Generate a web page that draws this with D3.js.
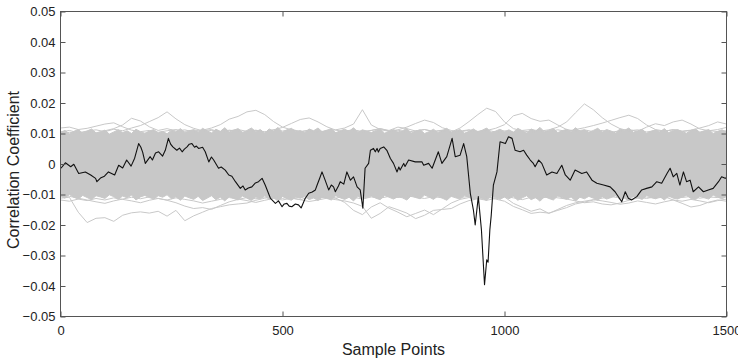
<!DOCTYPE html>
<html>
<head>
<meta charset="utf-8">
<script src="https://cdn.jsdelivr.net/npm/d3@7/dist/d3.min.js"></script>
<style>
  html, body { margin: 0; padding: 0; background: #fff; }
  svg { display: block; }
  text { font-family: "Liberation Sans", Arial, sans-serif; fill: #222; }
</style>
</head>
<body>
<svg id="chart" width="738" height="360"></svg>
<script>
// ---- axis definitions ----
const xTickValues = [0, 500, 1000, 1500];
const xTickLabels = ["0", "500", "1000", "1500"];
const yTickValues = [-0.05, -0.04, -0.03, -0.02, -0.01, 0, 0.01, 0.02, 0.03, 0.04, 0.05];
const yTickLabels = ["\u22120.05", "\u22120.04", "\u22120.03", "\u22120.02", "\u22120.01", "0",
                     "0.01", "0.02", "0.03", "0.04", "0.05"];
const xTitle = "Sample Points";
const yTitle = "Correlation Coefficient";

// ---- wrong-key correlation traces (grey) ----
// envelope of the dense bundle of wrong-key traces, one value every 10 samples
const coreStep = 10;
const coreUpper = [
  0.0104,0.0110,0.0099,0.0107,0.0113,0.0101,0.0108,0.0115,0.0102,0.0106,
  0.0111,0.0098,0.0105,0.0112,0.0103,0.0109,0.0100,0.0114,0.0106,0.0101,
  0.0108,0.0113,0.0102,0.0107,0.0099,0.0111,0.0105,0.0116,0.0103,0.0108,
  0.0112,0.0104,0.0117,0.0109,0.0102,0.0114,0.0107,0.0119,0.0105,0.0111,
  0.0116,0.0103,0.0110,0.0118,0.0106,0.0113,0.0101,0.0115,0.0108,0.0120,
  0.0104,0.0112,0.0117,0.0106,0.0110,0.0103,0.0115,0.0109,0.0118,0.0105,
  0.0111,0.0116,0.0102,0.0109,0.0114,0.0107,0.0119,0.0104,0.0112,0.0108,
  0.0103,0.0110,0.0115,0.0101,0.0107,0.0113,0.0105,0.0109,0.0116,0.0102,
  0.0108,0.0112,0.0100,0.0106,0.0114,0.0103,0.0110,0.0117,0.0104,0.0109,
  0.0113,0.0101,0.0107,0.0115,0.0105,0.0111,0.0118,0.0103,0.0108,0.0114,
  0.0106,0.0112,0.0104,0.0117,0.0109,0.0102,0.0115,0.0108,0.0120,0.0105,
  0.0111,0.0116,0.0103,0.0109,0.0114,0.0106,0.0119,0.0107,0.0112,0.0104,
  0.0110,0.0117,0.0105,0.0113,0.0108,0.0102,0.0115,0.0110,0.0118,0.0104,
  0.0109,0.0114,0.0101,0.0107,0.0112,0.0105,0.0116,0.0103,0.0110,0.0113,
  0.0106,0.0101,0.0111,0.0115,0.0104,0.0109,0.0113,0.0100,0.0107,0.0112,
  0.0105];
const coreLower = [
  -0.0106,-0.0112,-0.0100,-0.0109,-0.0115,-0.0103,-0.0110,-0.0117,-0.0104,-0.0108,
  -0.0113,-0.0101,-0.0107,-0.0116,-0.0105,-0.0111,-0.0102,-0.0118,-0.0108,-0.0103,
  -0.0110,-0.0115,-0.0104,-0.0109,-0.0101,-0.0114,-0.0107,-0.0119,-0.0105,-0.0111,
  -0.0116,-0.0106,-0.0120,-0.0112,-0.0104,-0.0117,-0.0109,-0.0121,-0.0107,-0.0113,
  -0.0118,-0.0105,-0.0112,-0.0120,-0.0108,-0.0115,-0.0103,-0.0117,-0.0110,-0.0122,
  -0.0106,-0.0114,-0.0119,-0.0108,-0.0112,-0.0105,-0.0117,-0.0111,-0.0120,-0.0107,
  -0.0113,-0.0118,-0.0104,-0.0111,-0.0116,-0.0109,-0.0121,-0.0106,-0.0114,-0.0110,
  -0.0105,-0.0112,-0.0117,-0.0103,-0.0109,-0.0115,-0.0107,-0.0111,-0.0118,-0.0104,
  -0.0110,-0.0114,-0.0102,-0.0108,-0.0116,-0.0105,-0.0112,-0.0119,-0.0106,-0.0111,
  -0.0115,-0.0103,-0.0109,-0.0117,-0.0107,-0.0113,-0.0120,-0.0105,-0.0110,-0.0116,
  -0.0108,-0.0114,-0.0106,-0.0119,-0.0111,-0.0104,-0.0117,-0.0110,-0.0122,-0.0107,
  -0.0113,-0.0118,-0.0105,-0.0111,-0.0116,-0.0108,-0.0121,-0.0109,-0.0114,-0.0106,
  -0.0112,-0.0119,-0.0107,-0.0115,-0.0110,-0.0104,-0.0117,-0.0112,-0.0120,-0.0106,
  -0.0111,-0.0116,-0.0103,-0.0109,-0.0114,-0.0107,-0.0118,-0.0105,-0.0112,-0.0115,
  -0.0108,-0.0103,-0.0113,-0.0117,-0.0106,-0.0111,-0.0115,-0.0102,-0.0109,-0.0114,
  -0.0107];

// outlying wrong-key traces, one value every 20 samples
const traceStep = 20;
const wrongKeyA = [0.0105,0.0110,0.0102,0.0108,0.0112,0.0106,0.0114,0.0109,0.0118,0.0126,
  0.0139,0.0152,0.0171,0.0148,0.0129,0.0117,0.0109,0.0113,0.0104,0.0111,
  0.0107,0.0102,0.0110,0.0105,0.0112,0.0108,0.0114,0.0106,0.0110,0.0103,
  0.0109,0.0112,0.0118,0.0131,0.0178,0.0128,0.0113,0.0107,0.0111,0.0104,
  0.0109,0.0113,0.0106,0.0110,0.0104,0.0108,0.0112,0.0107,0.0111,0.0105,
  0.0109,0.0104,0.0110,0.0113,0.0108,0.0112,0.0121,0.0138,0.0168,0.0197,
  0.0178,0.0152,0.0131,0.0116,0.0109,0.0112,0.0105,0.0110,0.0107,0.0113,
  0.0108,0.0111,0.0104,0.0110,0.0106,0.0109];
const wrongKeyB = [0.0097,0.0104,0.0100,0.0107,0.0101,0.0109,0.0116,0.0128,0.0150,0.0141,
  0.0122,0.0110,0.0116,0.0108,0.0112,0.0105,0.0111,0.0118,0.0129,0.0147,
  0.0156,0.0171,0.0176,0.0162,0.0139,0.0121,0.0112,0.0106,0.0111,0.0104,
  0.0110,0.0103,0.0108,0.0112,0.0106,0.0110,0.0116,0.0110,0.0121,0.0116,
  0.0108,0.0113,0.0107,0.0111,0.0105,0.0118,0.0139,0.0162,0.0183,0.0172,
  0.0138,0.0116,0.0109,0.0104,0.0110,0.0106,0.0112,0.0107,0.0113,0.0119,
  0.0126,0.0134,0.0143,0.0152,0.0160,0.0149,0.0128,0.0113,0.0108,0.0112,
  0.0106,0.0110,0.0118,0.0126,0.0138,0.0131];
const wrongKeyC = [0.0118,0.0121,0.0113,0.0117,0.0124,0.0131,0.0135,0.0122,0.0111,0.0106,
  0.0110,0.0104,0.0109,0.0113,0.0107,0.0112,0.0106,0.0110,0.0104,0.0109,
  0.0113,0.0107,0.0111,0.0105,0.0112,0.0120,0.0133,0.0146,0.0151,0.0138,
  0.0122,0.0111,0.0106,0.0111,0.0105,0.0110,0.0116,0.0108,0.0112,0.0121,
  0.0133,0.0144,0.0136,0.0119,0.0110,0.0105,0.0111,0.0106,0.0110,0.0117,
  0.0129,0.0158,0.0166,0.0149,0.0140,0.0144,0.0128,0.0113,0.0108,0.0112,
  0.0106,0.0110,0.0104,0.0109,0.0113,0.0107,0.0121,0.0132,0.0126,0.0138,
  0.0144,0.0131,0.0115,0.0109,0.0113,0.0120];
const wrongKeyD = [-0.0112,-0.0109,-0.0158,-0.0192,-0.0178,-0.0176,-0.0188,-0.0168,-0.0160,-0.0157,
  -0.0161,-0.0155,-0.0171,-0.0152,-0.0186,-0.0170,-0.0158,-0.0146,-0.0140,-0.0134,
  -0.0131,-0.0128,-0.0119,-0.0112,-0.0108,-0.0113,-0.0106,-0.0111,-0.0104,-0.0110,
  -0.0107,-0.0112,-0.0105,-0.0109,-0.0115,-0.0108,-0.0112,-0.0106,-0.0110,-0.0104,
  -0.0109,-0.0113,-0.0107,-0.0111,-0.0105,-0.0110,-0.0106,-0.0112,-0.0108,-0.0115,
  -0.0122,-0.0139,-0.0150,-0.0162,-0.0158,-0.0161,-0.0152,-0.0143,-0.0131,-0.0125,
  -0.0118,-0.0112,-0.0107,-0.0111,-0.0105,-0.0109,-0.0113,-0.0107,-0.0111,-0.0105,
  -0.0110,-0.0106,-0.0112,-0.0108,-0.0110,-0.0106];
const wrongKeyE = [-0.0100,-0.0106,-0.0112,-0.0118,-0.0124,-0.0129,-0.0121,-0.0115,-0.0109,-0.0114,
  -0.0108,-0.0113,-0.0119,-0.0127,-0.0138,-0.0146,-0.0143,-0.0149,-0.0136,-0.0124,
  -0.0116,-0.0110,-0.0114,-0.0108,-0.0112,-0.0106,-0.0111,-0.0117,-0.0109,-0.0113,
  -0.0107,-0.0112,-0.0126,-0.0152,-0.0166,-0.0141,-0.0127,-0.0145,-0.0158,-0.0173,
  -0.0162,-0.0151,-0.0166,-0.0147,-0.0128,-0.0116,-0.0110,-0.0114,-0.0108,-0.0112,
  -0.0106,-0.0111,-0.0117,-0.0109,-0.0113,-0.0107,-0.0111,-0.0115,-0.0121,-0.0127,
  -0.0124,-0.0131,-0.0134,-0.0128,-0.0119,-0.0112,-0.0108,-0.0113,-0.0107,-0.0118,
  -0.0129,-0.0141,-0.0136,-0.0125,-0.0118,-0.0122];
const wrongKeyF = [-0.0118,-0.0122,-0.0115,-0.0120,-0.0113,-0.0118,-0.0111,-0.0116,-0.0121,-0.0127,
  -0.0119,-0.0113,-0.0118,-0.0111,-0.0116,-0.0121,-0.0128,-0.0122,-0.0116,-0.0110,
  -0.0115,-0.0120,-0.0126,-0.0119,-0.0113,-0.0118,-0.0112,-0.0117,-0.0123,-0.0118,
  -0.0112,-0.0117,-0.0121,-0.0128,-0.0139,-0.0178,-0.0162,-0.0140,-0.0150,-0.0161,
  -0.0179,-0.0168,-0.0152,-0.0149,-0.0146,-0.0131,-0.0120,-0.0114,-0.0119,-0.0113,
  -0.0108,-0.0129,-0.0142,-0.0155,-0.0147,-0.0162,-0.0149,-0.0136,-0.0127,-0.0122,
  -0.0117,-0.0121,-0.0126,-0.0132,-0.0128,-0.0121,-0.0126,-0.0131,-0.0124,-0.0118,
  -0.0122,-0.0116,-0.0121,-0.0127,-0.0120,-0.0115];

// ---- correct-key correlation trace (black) ----
const keySamples = [1,11,23,30,41,56,68,79,82,90,99,108,122,131,140,149,159,167,176,181,
  185,191,202,207,214,221,230,236,243,248,253,262,268,274,279,285,290,296,302,306,
  311,320,326,334,340,345,356,362,371,379,386,394,405,411,416,423,431,439,446,454,
  461,473,484,491,499,504,510,515,521,529,536,542,551,559,567,574,578,584,589,596,
  604,610,615,619,626,630,638,645,653,660,668,675,681,686,694,698,705,709,713,716,
  720,728,735,743,750,758,762,765,773,776,784,799,814,818,829,837,851,859,870,882,
  889,900,908,915,923,930,934,941,948,955,960,963,967,970,975,983,990,1002,1009,1017,
  1024,1035,1043,1050,1058,1065,1069,1077,1084,1095,1107,1118,1129,1137,1148,1159,1174,1185,1197,1208,
  1223,1238,1249,1264,1272,1279,1286,1298,1309,1320,1332,1343,1354,1366,1373,1380,1388,1395,1403,1410,
  1418,1425,1437,1448,1459,1470,1482,1489,1497,1500];
const keyValues = [-0.0014,0.0004,-0.0009,-0.0001,-0.0031,-0.0026,-0.0036,-0.0047,-0.0058,-0.0046,
  -0.0040,-0.0026,-0.0036,-0.0004,-0.0013,0.0013,-0.0007,0.0019,0.0067,0.0055,
  0.0039,0.0002,0.0024,0.0013,0.0036,0.0040,0.0026,0.0045,0.0084,0.0065,
  0.0056,0.0045,0.0052,0.0040,0.0049,0.0056,0.0065,0.0067,0.0055,0.0059,
  0.0051,0.0055,0.0040,0.0007,0.0023,0.0013,-0.0014,-0.0010,-0.0020,-0.0036,
  -0.0040,-0.0058,-0.0080,-0.0072,-0.0085,-0.0079,-0.0075,-0.0062,-0.0058,-0.0047,
  -0.0069,-0.0113,-0.0129,-0.0121,-0.0140,-0.0131,-0.0129,-0.0138,-0.0140,-0.0131,
  -0.0134,-0.0144,-0.0113,-0.0096,-0.0092,-0.0085,-0.0069,-0.0046,-0.0026,-0.0053,
  -0.0085,-0.0069,-0.0075,-0.0091,-0.0072,-0.0058,-0.0066,-0.0026,-0.0053,-0.0042,
  -0.0075,-0.0085,-0.0145,-0.0014,0.0002,0.0045,0.0051,0.0040,0.0051,0.0039,
  0.0051,0.0056,0.0045,0.0018,0.0002,-0.0026,-0.0010,-0.0020,0.0002,-0.0008,
  0.0013,0.0007,0.0007,-0.0004,0.0002,-0.0014,0.0040,0.0002,0.0024,0.0084,
  0.0024,0.0029,0.0067,0.0024,-0.0096,-0.0151,-0.0200,-0.0107,-0.0215,-0.0396,
  -0.0314,-0.0322,-0.0216,-0.0170,-0.0069,-0.0026,0.0073,0.0067,0.0089,0.0084,
  0.0045,0.0040,0.0045,0.0029,0.0013,0.0002,-0.0009,0.0013,0.0002,-0.0036,
  -0.0026,-0.0031,-0.0004,-0.0036,-0.0053,-0.0020,-0.0031,-0.0026,-0.0053,-0.0063,
  -0.0069,-0.0075,-0.0091,-0.0124,-0.0091,-0.0112,-0.0118,-0.0107,-0.0085,-0.0080,
  -0.0075,-0.0058,-0.0063,-0.0031,-0.0014,-0.0042,-0.0031,-0.0069,-0.0026,-0.0058,
  -0.0053,-0.0091,-0.0075,-0.0091,-0.0085,-0.0080,-0.0058,-0.0042,-0.0047,-0.0045];

// ---- layout ----
const svg = d3.select("#chart");
const plot = { left: 60.5, right: 726.5, top: 11.5, bottom: 316.5 };

const x = d3.scaleLinear().domain([0, 1500]).range([plot.left, plot.right]);
const y = d3.scaleLinear().domain([-0.05, 0.05]).range([plot.bottom, plot.top]);

svg.append("defs").append("clipPath").attr("id", "plot-clip")
  .append("rect")
  .attr("x", plot.left).attr("y", plot.top)
  .attr("width", plot.right - plot.left).attr("height", plot.bottom - plot.top);

const layer = svg.append("g").attr("clip-path", "url(#plot-clip)");
const grey = "#c8c8c8";

// dense bundle of wrong-key traces
const band = coreUpper.map((u, i) => ({ s: i * coreStep, hi: u, lo: coreLower[i] }));
layer.append("path")
  .datum(band)
  .attr("fill", grey)
  .attr("stroke", grey)
  .attr("stroke-width", 1)
  .attr("stroke-linejoin", "round")
  .attr("d", d3.area().x(d => x(d.s)).y0(d => y(d.lo)).y1(d => y(d.hi)));

// individual wrong-key traces that leave the bundle
const line = d3.line().x(d => x(d.s)).y(d => y(d.v));
[wrongKeyA, wrongKeyB, wrongKeyC, wrongKeyD, wrongKeyE, wrongKeyF].forEach(tr => {
  layer.append("path")
    .datum(tr.map((v, i) => ({ s: i * traceStep, v })))
    .attr("fill", "none")
    .attr("stroke", grey)
    .attr("stroke-width", 1)
    .attr("stroke-linejoin", "round")
    .attr("d", line);
});

// correct key
layer.append("path")
  .datum(keySamples.map((s, i) => ({ s, v: keyValues[i] })))
  .attr("fill", "none")
  .attr("stroke", "#111")
  .attr("stroke-width", 1.1)
  .attr("stroke-linejoin", "round")
  .attr("d", line);

// ---- axes (ticks point inward, box on) ----
const axisColor = "#555";
const tickLen = 5;

const gx = svg.append("g").attr("transform", `translate(0,${plot.bottom})`)
  .call(d3.axisBottom(x).tickValues(xTickValues)
    .tickFormat((d, i) => xTickLabels[i]).tickSize(-tickLen).tickPadding(9));
const gy = svg.append("g").attr("transform", `translate(${plot.left},0)`)
  .call(d3.axisLeft(y).tickValues(yTickValues)
    .tickFormat((d, i) => yTickLabels[i]).tickSize(-tickLen).tickPadding(5));
const gt = svg.append("g").attr("transform", `translate(0,${plot.top})`)
  .call(d3.axisTop(x).tickValues(xTickValues).tickFormat("").tickSize(-tickLen));
const gr = svg.append("g").attr("transform", `translate(${plot.right},0)`)
  .call(d3.axisRight(y).tickValues(yTickValues).tickFormat("").tickSize(-tickLen));

[gx, gy, gt, gr].forEach(g => {
  g.select(".domain").remove();
  g.selectAll(".tick line").attr("stroke", axisColor);
  g.selectAll(".tick text")
    .attr("fill", "#222")
    .style("font-family", "'Liberation Sans', Arial, sans-serif")
    .style("font-size", "13px");
});

svg.append("rect")
  .attr("x", plot.left).attr("y", plot.top)
  .attr("width", plot.right - plot.left).attr("height", plot.bottom - plot.top)
  .attr("fill", "none").attr("stroke", axisColor).attr("stroke-width", 1);

// ---- titles ----
svg.append("text")
  .attr("x", (plot.left + plot.right) / 2).attr("y", 355)
  .attr("text-anchor", "middle")
  .style("font-size", "16px")
  .text(xTitle);

svg.append("text")
  .attr("transform", `translate(19,170) rotate(-90)`)
  .attr("text-anchor", "middle")
  .style("font-size", "16px")
  .text(yTitle);
</script>
</body>
</html>
